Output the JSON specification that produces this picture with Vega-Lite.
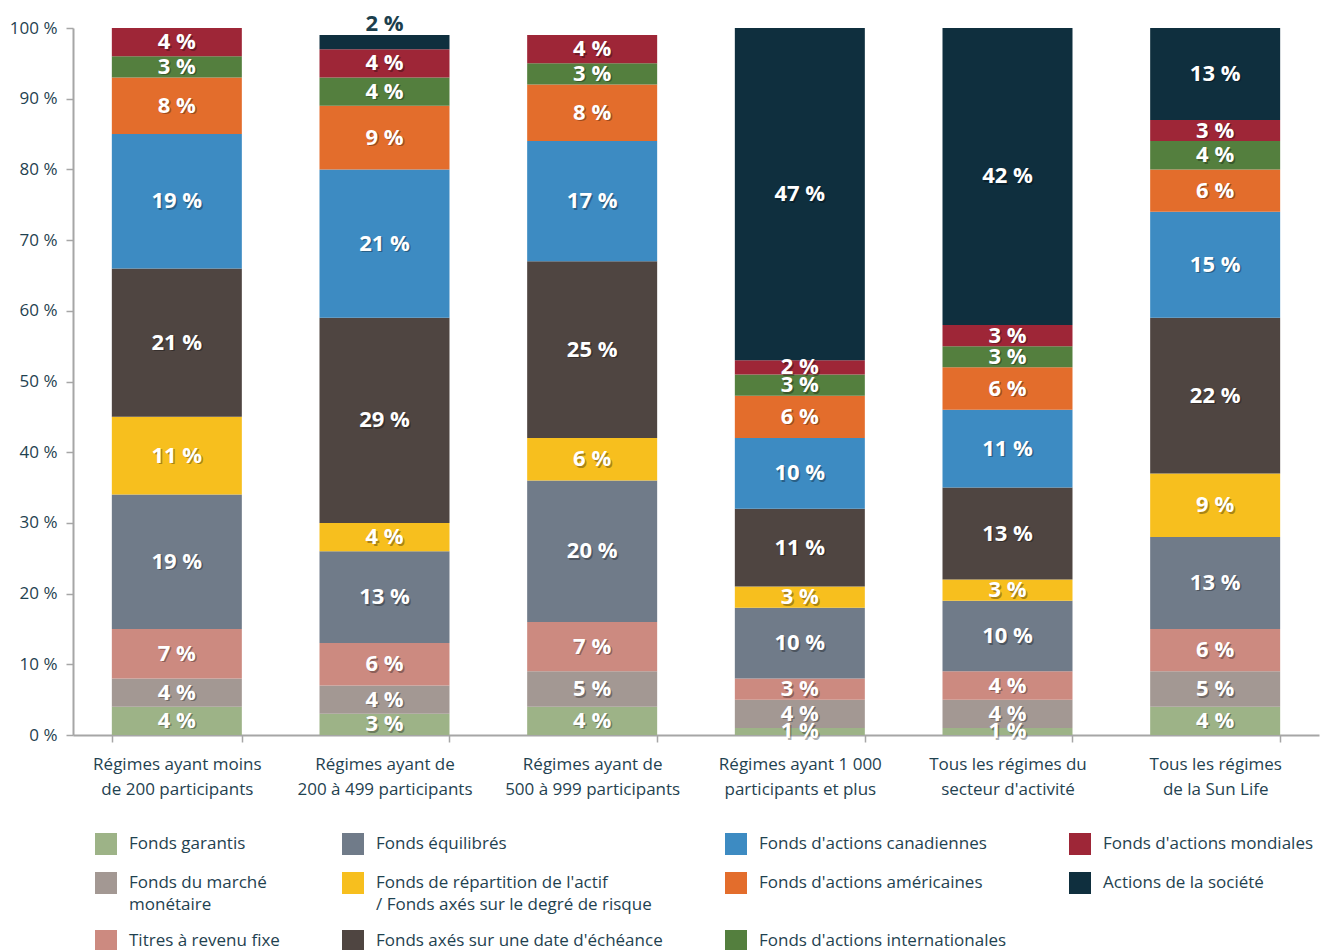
{
  "$schema": "https://vega.github.io/schema/vega-lite/v6.json",
  "width": 1246,
  "height": 707,
  "autosize": "none",
  "padding": {"left": 73, "top": 28, "right": 1, "bottom": 215},
  "background": "white",
  "config": {"view": {"stroke": null}, "font": "Open Sans", "style": {"guide-label": {"lineHeight": 22}}},
  "data": {"values": [
    {"cat": "Régimes ayant moins de 200 participants", "series": "Fonds garantis", "rank": 1, "value": 4},
    {"cat": "Régimes ayant moins de 200 participants", "series": "Fonds du marché monétaire", "rank": 2, "value": 4},
    {"cat": "Régimes ayant moins de 200 participants", "series": "Titres à revenu fixe", "rank": 3, "value": 7},
    {"cat": "Régimes ayant moins de 200 participants", "series": "Fonds équilibrés", "rank": 4, "value": 19},
    {"cat": "Régimes ayant moins de 200 participants", "series": "Fonds de répartition de l'actif / Fonds axés sur le degré de risque", "rank": 5, "value": 11},
    {"cat": "Régimes ayant moins de 200 participants", "series": "Fonds axés sur une date d'échéance", "rank": 6, "value": 21},
    {"cat": "Régimes ayant moins de 200 participants", "series": "Fonds d'actions canadiennes", "rank": 7, "value": 19},
    {"cat": "Régimes ayant moins de 200 participants", "series": "Fonds d'actions américaines", "rank": 8, "value": 8},
    {"cat": "Régimes ayant moins de 200 participants", "series": "Fonds d'actions internationales", "rank": 9, "value": 3},
    {"cat": "Régimes ayant moins de 200 participants", "series": "Fonds d'actions mondiales", "rank": 10, "value": 4},

    {"cat": "Régimes ayant de 200 à 499 participants", "series": "Fonds garantis", "rank": 1, "value": 3},
    {"cat": "Régimes ayant de 200 à 499 participants", "series": "Fonds du marché monétaire", "rank": 2, "value": 4},
    {"cat": "Régimes ayant de 200 à 499 participants", "series": "Titres à revenu fixe", "rank": 3, "value": 6},
    {"cat": "Régimes ayant de 200 à 499 participants", "series": "Fonds équilibrés", "rank": 4, "value": 13},
    {"cat": "Régimes ayant de 200 à 499 participants", "series": "Fonds de répartition de l'actif / Fonds axés sur le degré de risque", "rank": 5, "value": 4},
    {"cat": "Régimes ayant de 200 à 499 participants", "series": "Fonds axés sur une date d'échéance", "rank": 6, "value": 29},
    {"cat": "Régimes ayant de 200 à 499 participants", "series": "Fonds d'actions canadiennes", "rank": 7, "value": 21},
    {"cat": "Régimes ayant de 200 à 499 participants", "series": "Fonds d'actions américaines", "rank": 8, "value": 9},
    {"cat": "Régimes ayant de 200 à 499 participants", "series": "Fonds d'actions internationales", "rank": 9, "value": 4},
    {"cat": "Régimes ayant de 200 à 499 participants", "series": "Fonds d'actions mondiales", "rank": 10, "value": 4},
    {"cat": "Régimes ayant de 200 à 499 participants", "series": "Actions de la société", "rank": 11, "value": 2},

    {"cat": "Régimes ayant de 500 à 999 participants", "series": "Fonds garantis", "rank": 1, "value": 4},
    {"cat": "Régimes ayant de 500 à 999 participants", "series": "Fonds du marché monétaire", "rank": 2, "value": 5},
    {"cat": "Régimes ayant de 500 à 999 participants", "series": "Titres à revenu fixe", "rank": 3, "value": 7},
    {"cat": "Régimes ayant de 500 à 999 participants", "series": "Fonds équilibrés", "rank": 4, "value": 20},
    {"cat": "Régimes ayant de 500 à 999 participants", "series": "Fonds de répartition de l'actif / Fonds axés sur le degré de risque", "rank": 5, "value": 6},
    {"cat": "Régimes ayant de 500 à 999 participants", "series": "Fonds axés sur une date d'échéance", "rank": 6, "value": 25},
    {"cat": "Régimes ayant de 500 à 999 participants", "series": "Fonds d'actions canadiennes", "rank": 7, "value": 17},
    {"cat": "Régimes ayant de 500 à 999 participants", "series": "Fonds d'actions américaines", "rank": 8, "value": 8},
    {"cat": "Régimes ayant de 500 à 999 participants", "series": "Fonds d'actions internationales", "rank": 9, "value": 3},
    {"cat": "Régimes ayant de 500 à 999 participants", "series": "Fonds d'actions mondiales", "rank": 10, "value": 4},

    {"cat": "Régimes ayant 1 000 participants et plus", "series": "Fonds garantis", "rank": 1, "value": 1},
    {"cat": "Régimes ayant 1 000 participants et plus", "series": "Fonds du marché monétaire", "rank": 2, "value": 4},
    {"cat": "Régimes ayant 1 000 participants et plus", "series": "Titres à revenu fixe", "rank": 3, "value": 3},
    {"cat": "Régimes ayant 1 000 participants et plus", "series": "Fonds équilibrés", "rank": 4, "value": 10},
    {"cat": "Régimes ayant 1 000 participants et plus", "series": "Fonds de répartition de l'actif / Fonds axés sur le degré de risque", "rank": 5, "value": 3},
    {"cat": "Régimes ayant 1 000 participants et plus", "series": "Fonds axés sur une date d'échéance", "rank": 6, "value": 11},
    {"cat": "Régimes ayant 1 000 participants et plus", "series": "Fonds d'actions canadiennes", "rank": 7, "value": 10},
    {"cat": "Régimes ayant 1 000 participants et plus", "series": "Fonds d'actions américaines", "rank": 8, "value": 6},
    {"cat": "Régimes ayant 1 000 participants et plus", "series": "Fonds d'actions internationales", "rank": 9, "value": 3},
    {"cat": "Régimes ayant 1 000 participants et plus", "series": "Fonds d'actions mondiales", "rank": 10, "value": 2},
    {"cat": "Régimes ayant 1 000 participants et plus", "series": "Actions de la société", "rank": 11, "value": 47},

    {"cat": "Tous les régimes du secteur d'activité", "series": "Fonds garantis", "rank": 1, "value": 1},
    {"cat": "Tous les régimes du secteur d'activité", "series": "Fonds du marché monétaire", "rank": 2, "value": 4},
    {"cat": "Tous les régimes du secteur d'activité", "series": "Titres à revenu fixe", "rank": 3, "value": 4},
    {"cat": "Tous les régimes du secteur d'activité", "series": "Fonds équilibrés", "rank": 4, "value": 10},
    {"cat": "Tous les régimes du secteur d'activité", "series": "Fonds de répartition de l'actif / Fonds axés sur le degré de risque", "rank": 5, "value": 3},
    {"cat": "Tous les régimes du secteur d'activité", "series": "Fonds axés sur une date d'échéance", "rank": 6, "value": 13},
    {"cat": "Tous les régimes du secteur d'activité", "series": "Fonds d'actions canadiennes", "rank": 7, "value": 11},
    {"cat": "Tous les régimes du secteur d'activité", "series": "Fonds d'actions américaines", "rank": 8, "value": 6},
    {"cat": "Tous les régimes du secteur d'activité", "series": "Fonds d'actions internationales", "rank": 9, "value": 3},
    {"cat": "Tous les régimes du secteur d'activité", "series": "Fonds d'actions mondiales", "rank": 10, "value": 3},
    {"cat": "Tous les régimes du secteur d'activité", "series": "Actions de la société", "rank": 11, "value": 42},

    {"cat": "Tous les régimes de la Sun Life", "series": "Fonds garantis", "rank": 1, "value": 4},
    {"cat": "Tous les régimes de la Sun Life", "series": "Fonds du marché monétaire", "rank": 2, "value": 5},
    {"cat": "Tous les régimes de la Sun Life", "series": "Titres à revenu fixe", "rank": 3, "value": 6},
    {"cat": "Tous les régimes de la Sun Life", "series": "Fonds équilibrés", "rank": 4, "value": 13},
    {"cat": "Tous les régimes de la Sun Life", "series": "Fonds de répartition de l'actif / Fonds axés sur le degré de risque", "rank": 5, "value": 9},
    {"cat": "Tous les régimes de la Sun Life", "series": "Fonds axés sur une date d'échéance", "rank": 6, "value": 22},
    {"cat": "Tous les régimes de la Sun Life", "series": "Fonds d'actions canadiennes", "rank": 7, "value": 15},
    {"cat": "Tous les régimes de la Sun Life", "series": "Fonds d'actions américaines", "rank": 8, "value": 6},
    {"cat": "Tous les régimes de la Sun Life", "series": "Fonds d'actions internationales", "rank": 9, "value": 4},
    {"cat": "Tous les régimes de la Sun Life", "series": "Fonds d'actions mondiales", "rank": 10, "value": 3},
    {"cat": "Tous les régimes de la Sun Life", "series": "Actions de la société", "rank": 11, "value": 13}
  ]},
  "transform": [
    {"stack": "value", "groupby": ["cat"], "sort": [{"field": "rank", "order": "ascending"}], "as": ["v0", "v1"]},
    {"calculate": "(datum.v0 + datum.v1) / 2", "as": "vmid"},
    {"calculate": "datum.value + ' %'", "as": "lbl"}
  ],
  "encoding": {
    "x": {
      "field": "cat", "type": "nominal",
      "sort": ["Régimes ayant moins de 200 participants", "Régimes ayant de 200 à 499 participants", "Régimes ayant de 500 à 999 participants", "Régimes ayant 1 000 participants et plus", "Tous les régimes du secteur d'activité", "Tous les régimes de la Sun Life"],
      "scale": {"paddingInner": 0.374, "paddingOuter": 0.187},
      "axis": {
        "title": null, "labelAngle": 0, "tickBand": "extent",
        "labelExpr": "datum.label == 'Régimes ayant moins de 200 participants' ? ['Régimes ayant moins', 'de 200 participants'] : datum.label == 'Régimes ayant de 200 à 499 participants' ? ['Régimes ayant de', '200 à 499 participants'] : datum.label == 'Régimes ayant de 500 à 999 participants' ? ['Régimes ayant de', '500 à 999 participants'] : datum.label == 'Régimes ayant 1 000 participants et plus' ? ['Régimes ayant 1 000', 'participants et plus'] : datum.label == 'Tous les régimes de la Sun Life' ? ['Tous les régimes', 'de la Sun Life'] : datum.label == \"Tous les régimes du secteur d'activité\" ? ['Tous les régimes du', \"secteur d'activité\"] : datum.label",
        "labelFontSize": 17, "labelColor": "#1f4250", "labelPadding": 14, "labelLineHeight": 25, "labelLimit": 260,
        "domainColor": "#a6a6a6", "domainWidth": 2, "tickColor": "#a6a6a6", "tickWidth": 1.5, "tickSize": 7
      }
    }
  },
  "layer": [
    {
      "mark": {"type": "bar", "opacity": 1},
      "encoding": {
        "y": {
          "field": "v0", "type": "quantitative",
          "scale": {"domain": [0, 100], "nice": false},
          "axis": {
            "title": null, "grid": false,
            "values": [0, 10, 20, 30, 40, 50, 60, 70, 80, 90, 100],
            "labelExpr": "datum.value + ' %'",
            "labelFontSize": 17, "labelColor": "#1f4250", "labelPadding": 9,
            "domainColor": "#a6a6a6", "domainWidth": 2, "tickColor": "#a6a6a6", "tickWidth": 1.5, "tickSize": 7
          }
        },
        "y2": {"field": "v1"},
        "color": {
          "field": "series", "type": "nominal",
          "scale": {
            "domain": ["Fonds garantis", "Fonds du marché monétaire", "Titres à revenu fixe", "Fonds équilibrés", "Fonds de répartition de l'actif / Fonds axés sur le degré de risque", "Fonds axés sur une date d'échéance", "Fonds d'actions canadiennes", "Fonds d'actions américaines", "Fonds d'actions internationales", "Fonds d'actions mondiales", "Actions de la société"],
            "range": ["#9db387", "#a39893", "#cc8a80", "#707b89", "#f7bf1e", "#4f4541", "#3d8bc2", "#e36d2c", "#547f3e", "#9e2637", "#0f2f3e"]
          },
          "legend": {
            "title": null, "orient": "none", "legendX": 22, "legendY": 805, "columns": 4,
            "columnPadding": 62, "rowPadding": 17, "padding": 0,
            "symbolType": "square", "symbolSize": 484, "symbolStrokeWidth": 0, "symbolOpacity": 1,
            "labelFontSize": 17, "labelColor": "#1f4250", "labelLimit": 400, "labelOffset": 12,
            "labelExpr": "datum.label == 'Fonds du marché monétaire' ? ['Fonds du marché', 'monétaire'] : indexof(datum.label, 'risque') > 0 ? [\"Fonds de répartition de l'actif\", '/ Fonds axés sur le degré de risque'] : datum.label"
          }
        }
      }
    },
    {
      "transform": [{"filter": "!(datum.series == 'Actions de la société' && datum.value == 2)"}],
      "mark": {"type": "text", "color": "#000000", "opacity": 0.3, "fontSize": 22, "fontWeight": "bold", "dx": 1.5, "dy": 1.5, "baseline": "middle"},
      "encoding": {"y": {"field": "vmid", "type": "quantitative"}, "text": {"field": "lbl"}}
    },
    {
      "transform": [{"filter": "!(datum.series == 'Actions de la société' && datum.value == 2)"}],
      "mark": {"type": "text", "color": "#ffffff", "fontSize": 22, "fontWeight": "bold", "baseline": "middle"},
      "encoding": {"y": {"field": "vmid", "type": "quantitative"}, "text": {"field": "lbl"}}
    },
    {
      "transform": [{"filter": "datum.series == 'Actions de la société' && datum.value == 2"}],
      "mark": {"type": "text", "color": "#1c3f4d", "fontSize": 22, "fontWeight": "bold", "baseline": "bottom", "dy": 1},
      "encoding": {"y": {"field": "v1", "type": "quantitative"}, "text": {"field": "lbl"}}
    }
  ]
}
